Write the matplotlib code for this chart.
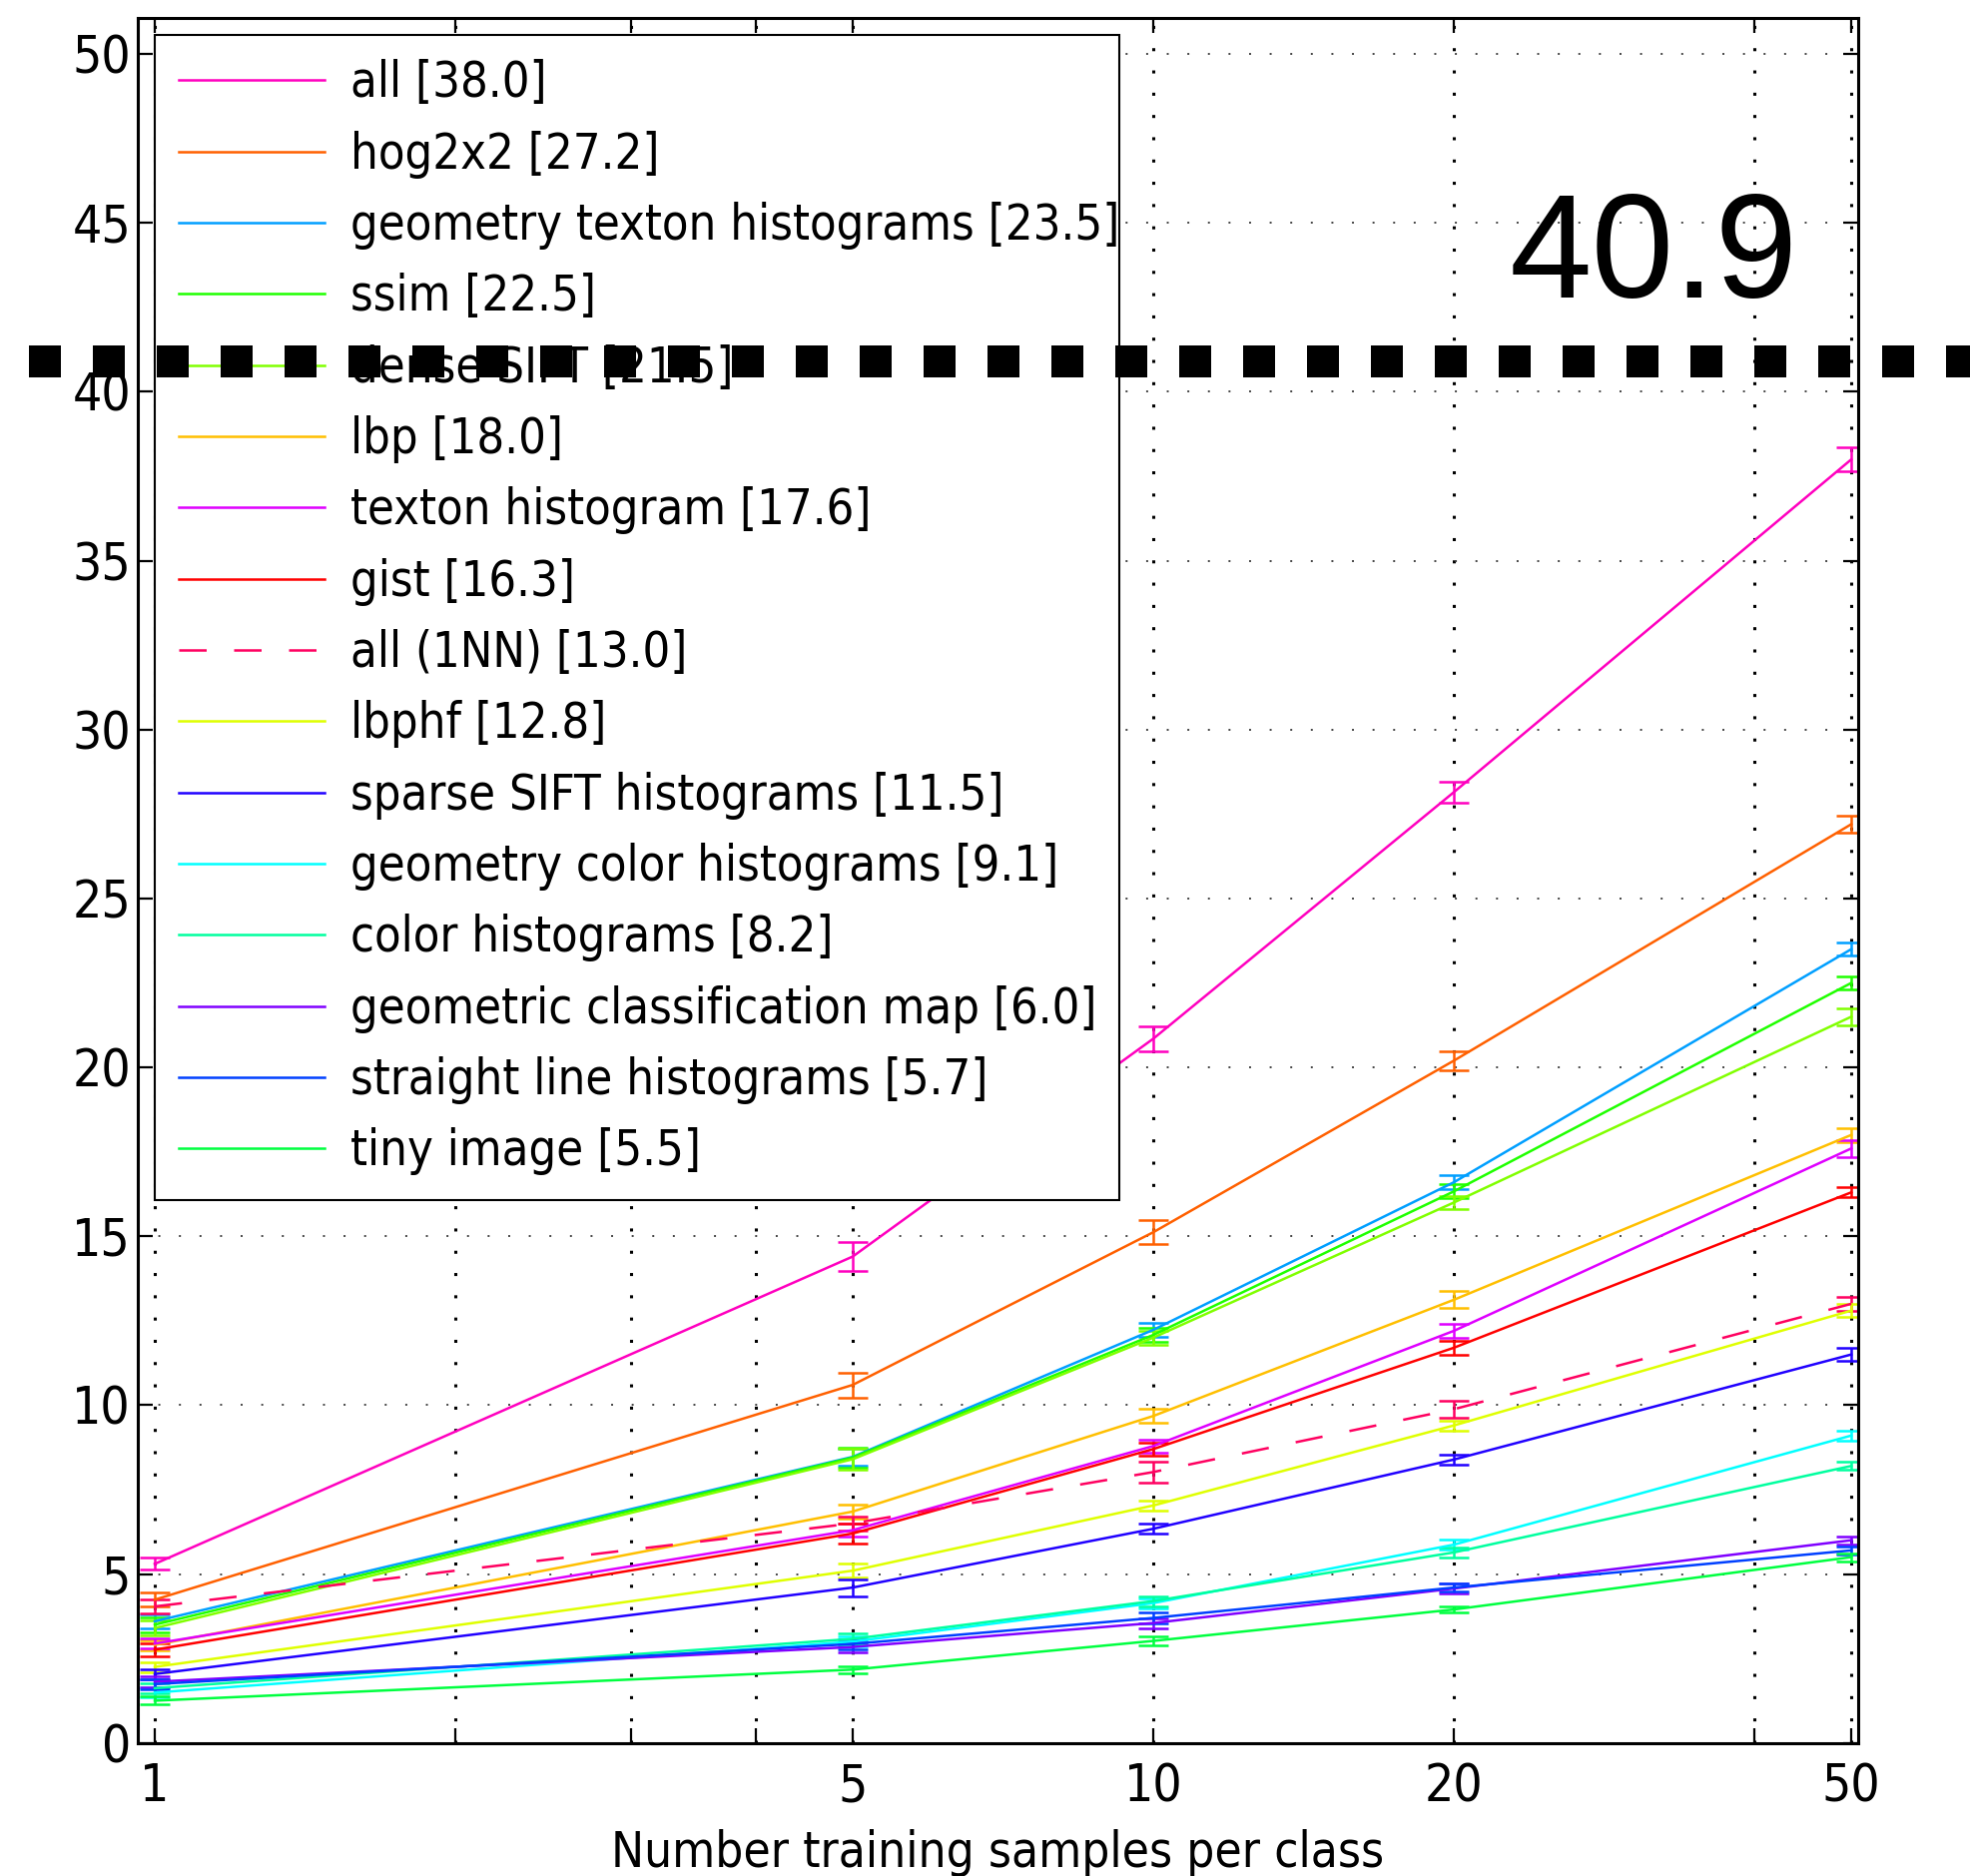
import matplotlib
matplotlib.use("Agg")
import matplotlib.pyplot as plt
from matplotlib.ticker import FixedLocator, FixedFormatter, NullLocator
from matplotlib.transforms import blended_transform_factory

# ---------------- data ----------------
x_samples = [1, 5, 10, 20, 50]

labels = [
    "all [38.0]",
    "hog2x2 [27.2]",
    "geometry texton histograms [23.5]",
    "ssim [22.5]",
    "dense SIFT [21.5]",
    "lbp [18.0]",
    "texton histogram [17.6]",
    "gist [16.3]",
    "all (1NN) [13.0]",
    "lbphf [12.8]",
    "sparse SIFT histograms [11.5]",
    "geometry color histograms [9.1]",
    "color histograms [8.2]",
    "geometric classification map [6.0]",
    "straight line histograms [5.7]",
    "tiny image [5.5]",
]

all_feat = [5.30, 14.40, 20.85, 28.15, 38.0]
hog2x2 = [4.24, 10.60, 15.12, 20.20, 27.2]
geo_texton = [3.60, 8.47, 12.23, 16.60, 23.5]
ssim = [3.50, 8.45, 12.08, 16.33, 22.5]
dense_sift = [3.40, 8.40, 12.00, 16.00, 21.5]
lbp = [2.90, 6.85, 9.68, 13.12, 18.0]
texton_hist = [2.94, 6.30, 8.79, 12.20, 17.6]
gist = [2.76, 6.20, 8.70, 11.70, 16.3]
all_1nn = [4.04, 6.50, 8.02, 9.88, 13.0]
lbphf = [2.25, 5.10, 7.03, 9.40, 12.8]
sparse_sift = [2.04, 4.60, 6.34, 8.39, 11.5]
geo_color = [1.49, 3.00, 4.14, 5.87, 9.1]
color_hist = [1.62, 3.08, 4.20, 5.64, 8.2]
geo_class_map = [1.81, 2.84, 3.55, 4.57, 6.0]
straight_line = [1.74, 2.93, 3.70, 4.60, 5.7]
tiny_image = [1.25, 2.17, 3.02, 3.95, 5.5]

err_all_feat = [0.18, 0.42, 0.37, 0.30, 0.35]
err_hog2x2 = [0.20, 0.37, 0.35, 0.28, 0.25]
err_geo_texton = [0.20, 0.25, 0.20, 0.20, 0.20]
err_ssim = [0.22, 0.30, 0.20, 0.20, 0.20]
err_dense_sift = [0.22, 0.30, 0.20, 0.20, 0.25]
err_lbp = [0.15, 0.20, 0.20, 0.25, 0.20]
err_texton_hist = [0.15, 0.20, 0.20, 0.20, 0.25]
err_gist = [0.20, 0.30, 0.20, 0.20, 0.15]
err_all_1nn = [0.20, 0.20, 0.30, 0.25, 0.20]
err_lbphf = [0.15, 0.20, 0.15, 0.15, 0.20]
err_sparse_sift = [0.15, 0.25, 0.15, 0.15, 0.20]
err_geo_color = [0.15, 0.15, 0.15, 0.15, 0.15]
err_color_hist = [0.15, 0.15, 0.15, 0.15, 0.12]
err_geo_class_map = [0.15, 0.15, 0.15, 0.15, 0.12]
err_straight_line = [0.15, 0.15, 0.15, 0.12, 0.12]
err_tiny_image = [0.12, 0.10, 0.12, 0.10, 0.12]

series = [all_feat, hog2x2, geo_texton, ssim, dense_sift, lbp, texton_hist, gist,
          all_1nn, lbphf, sparse_sift, geo_color, color_hist, geo_class_map,
          straight_line, tiny_image]
errors = [err_all_feat, err_hog2x2, err_geo_texton, err_ssim, err_dense_sift, err_lbp,
          err_texton_hist, err_gist, err_all_1nn, err_lbphf, err_sparse_sift,
          err_geo_color, err_color_hist, err_geo_class_map, err_straight_line,
          err_tiny_image]

colors = ["#ff00bf", "#ff6000", "#009fff", "#20ff00", "#80ff00", "#ffbf00",
          "#df00ff", "#ff0000", "#ff0060", "#dfff00", "#2000ff", "#00ffff",
          "#00ff9f", "#8000ff", "#0040ff", "#00ff40"]
dashed_series = [False] * 8 + [True] + [False] * 7

y_ticks = [0, 5, 10, 15, 20, 25, 30, 35, 40, 45, 50]
x_ticks = [1, 2, 3, 4, 5, 10, 20, 40, 50]
x_tick_labels = ["1", "", "", "", "5", "10", "20", "", "50"]
x_label = "Number training samples per class"

highlight_value = 40.9
highlight_text = "40.9"

# ---------------- figure ----------------
W, H = 1973, 1879
fig = plt.figure(figsize=(W / 100, H / 100), dpi=100)
ax = fig.add_axes([138 / W, 1 - 1745.7 / H, (1861 - 138) / W, (1745.7 - 18) / H])

handles = []
for vals, err, col, dashed, lab in zip(series, errors, colors, dashed_series, labels):
    eb = ax.errorbar(x_samples, vals, yerr=err, color=col, lw=1.8, elinewidth=1.8,
                     capsize=11, capthick=1.8, label=lab,
                     ls="--" if dashed else "-")
    if dashed:
        eb[0].set_dashes((11, 11))
    handles.append(eb[0])

ax.set_xscale("log")
ax.set_xlim(0.9616, 50.8)
ax.set_ylim(0, 51.07)
ax.xaxis.set_major_locator(FixedLocator(x_ticks))
ax.xaxis.set_major_formatter(FixedFormatter(x_tick_labels))
ax.xaxis.set_minor_locator(NullLocator())
ax.set_yticks(y_ticks)
ax.set_yticklabels([str(v) for v in y_ticks])

for lab in ax.get_xticklabels() + ax.get_yticklabels():
    lab.set_fontfamily("DejaVu Sans")
    lab.set_fontstretch("condensed")
    lab.set_fontsize(37)

ax.tick_params(axis="both", which="major", direction="in", length=11, width=1.6,
               top=True, right=True, colors="black")
ax.tick_params(axis="x", pad=14)
ax.tick_params(axis="y", pad=5)

for sp in ax.spines.values():
    sp.set_linewidth(2.2)
    sp.set_color("black")

ax.set_axisbelow(True)
ax.xaxis.grid(True, color="black", lw=2.2, linestyle=(0, (1, 6.3)))
ax.yaxis.grid(True, color="#444444", lw=1.4, linestyle=(0, (1, 9.6)))

leg = ax.legend(handles=handles, labels=labels, loc="upper left",
                bbox_to_anchor=(155 / W, 1 - 35 / H - 0.01, (1121 - 155) / W, 0.01),
                bbox_transform=fig.transFigure, mode="expand", borderaxespad=0,
                prop=dict(family="DejaVu Sans", stretch="condensed", size=35),
                handlelength=3.0, handletextpad=0.53, labelspacing=0.48,
                borderpad=0.5, fancybox=False, framealpha=1, edgecolor="black")
leg.get_frame().set_linewidth(1.5)
leg.set_zorder(5)

# x label (partly cut at the bottom edge, as in the reference)
fig.text(999.5 / W, 1 - 1870 / H, x_label, ha="center", va="baseline",
         fontsize=35.5, family="DejaVu Sans", stretch="condensed")

# overlay: thick square-dotted line at 40.9 and its value
trans = blended_transform_factory(fig.transFigure, ax.transData)
ax.plot([28.5 / W, 1.05], [highlight_value, highlight_value], transform=trans,
        clip_on=False, color="black", lw=23.04, dashes=(1, 1),
        dash_capstyle="butt", solid_capstyle="butt", zorder=20)
fig.text(1656 / W, 1 - 298 / H, highlight_text, ha="center", va="baseline",
         fontsize=107, family="Liberation Sans", color="black")

fig.savefig("out.png", dpi=100)
